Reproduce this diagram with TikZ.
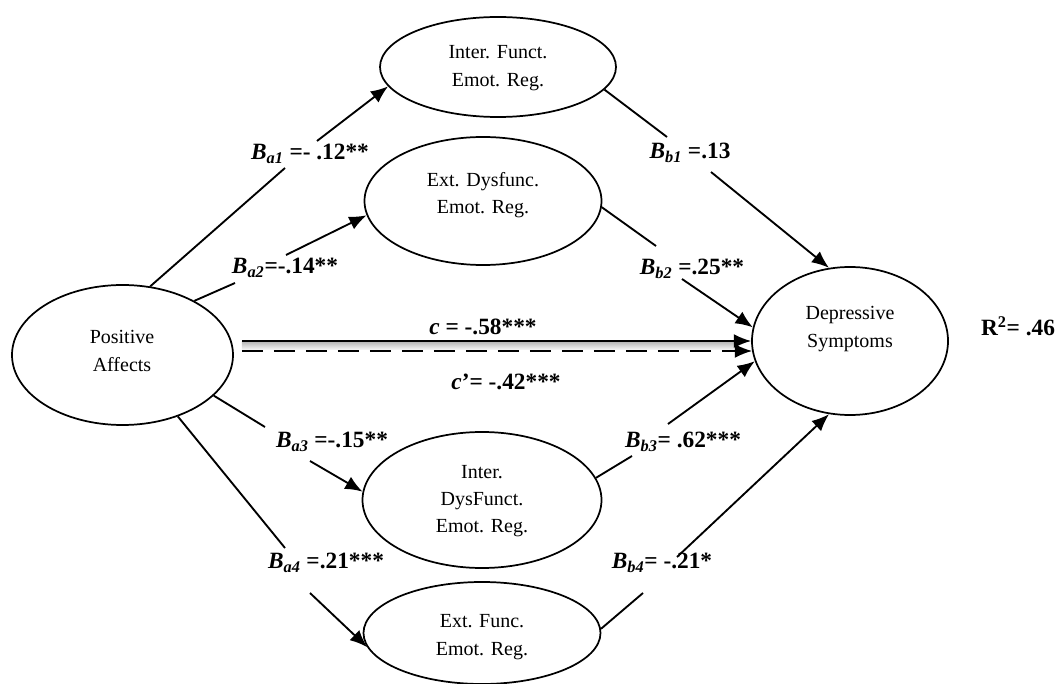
\documentclass[tikz,border=0pt]{standalone}
\usepackage{fontspec}
\setmainfont{Liberation Serif}
\usetikzlibrary{arrows.meta,shapes.geometric}
\tikzset{
  var/.style={draw, ellipse, line width=1.3pt, inner sep=0pt},
  vtext/.style={align=center, font=\fontsize{15}{20.5}\selectfont, inner sep=0pt},
  coef/.style={font=\fontsize{17.5}{20}\selectfont\bfseries, inner sep=0pt},
  seg/.style={line width=1.4pt},
  arr/.style={line width=1.4pt, -{Latex[length=13pt,width=10.5pt]}},
}
\newcommand{\Bs}[1]{\textit{B}\textsubscript{\textit{#1}}}
\begin{document}
\begin{tikzpicture}[x=0.75pt,y=-0.75pt]
\useasboundingbox (0,0) rectangle (1061,684);
% variables
\node[var, minimum width=165.75pt, minimum height=105pt] (pa) at (122.5,355) {};
\node[var, minimum width=177pt, minimum height=75pt] (ifer) at (498,67) {};
\node[var, minimum width=177.75pt, minimum height=96pt] (edr) at (483,201) {};
\node[var, minimum width=147pt, minimum height=111pt] (dep) at (850,341) {};
\node[var, minimum width=179.25pt, minimum height=102pt] (idr) at (482,500) {};
\node[var, minimum width=177.75pt, minimum height=76.5pt] (efr) at (482,633) {};
% texts
\node[vtext] (pat) at (122,351) {Positive\\Affects};
\node[vtext] (ifert) at (498,68) {Inter. Funct.\\Emot. Reg.};
\node[vtext] (edrt) at (483,195) {Ext. Dysfunc.\\Emot. Reg.};
\node[vtext] (dept) at (850,329) {Depressive\\Symptoms};
\node[vtext] (idrt) at (482,501) {Inter.\\DysFunct.\\Emot. Reg.};
\node[vtext] (efrt) at (482,637) {Ext. Func.\\Emot. Reg.};
% coefficient labels
\node[coef] (la1) at (310,154) {\Bs{a1} =- .12**};
\node[coef] (la2) at (285,268) {\Bs{a2}=-.14**};
\node[coef] (la3) at (332,442) {\Bs{a3} =-.15**};
\node[coef] (la4) at (326,563) {\Bs{a4} =.21***};
\node[coef] (lb1) at (690,153) {\Bs{b1} =.13};
\node[coef] (lb2) at (692,269) {\Bs{b2} =.25**};
\node[coef] (lb3) at (683,442) {\Bs{b3}= .62***};
\node[coef] (lb4) at (662,563) {\Bs{b4}= -.21*};
\node[coef] (lc) at (483,327) {\textit{c} = -.58***};
\node[coef] (lcp) at (506,382) {\textit{c}’= -.42***};
\node[coef] (lr) at (1018,326) {R\textsuperscript{2}= .46};
% gap coordinates
\coordinate (a1m) at (285,168); \coordinate (a1n) at (317,141);
\coordinate (a2m) at (235,283); \coordinate (a2n) at (286,255);
\coordinate (a3m) at (265,427); \coordinate (a3n) at (310,461);
\coordinate (a4m) at (285,548); \coordinate (a4n) at (310,593);
\coordinate (b1m) at (667,137); \coordinate (b1n) at (711,172);
\coordinate (b2m) at (656,246); \coordinate (b2n) at (682,279);
\coordinate (b3m) at (632,456); \coordinate (b3n) at (668,424);
\coordinate (b4m) at (643,593); \coordinate (b4n) at (677,557);
% a paths
\draw[seg] (pa.68) -- (a1m); \draw[arr] (a1n) -- (ifer.190);
\draw[seg] (pa.37) -- (a2m); \draw[arr] (a2n) -- (edr.187);
\draw[seg] (pa.-24) -- (a3m); \draw[arr] (a3n) -- (idr.176);
\draw[seg] (pa.-48) -- (a4m); \draw[arr] (a4n) -- (efr.187);
% b paths
\draw[seg] (ifer.-12) -- (b1m); \draw[arr] (b1n) -- (dep.106);
\draw[seg] (edr.-3) -- (b2m); \draw[arr] (b2n) -- (dep.172);
\draw[seg] (idr.11) -- (b3m); \draw[arr] (b3n) -- (dep.192);
\draw[seg] (efr.2) -- (b4m); \draw[arr] (b4n) -- (dep.254);
% c and c'
\shade[top color=gray!55, bottom color=gray!5] ([shift={(8,-13)}]pa.east) rectangle ([shift={(-12,9)}]dep.west);
\draw[arr] ([shift={(8,-14)}]pa.east) -- (dep.west);
\draw[arr, dash pattern=on 16pt off 8pt] ([shift={(8,-4)}]pa.east) -- ([shift={(1,10)}]dep.west);
\end{tikzpicture}
\end{document}
